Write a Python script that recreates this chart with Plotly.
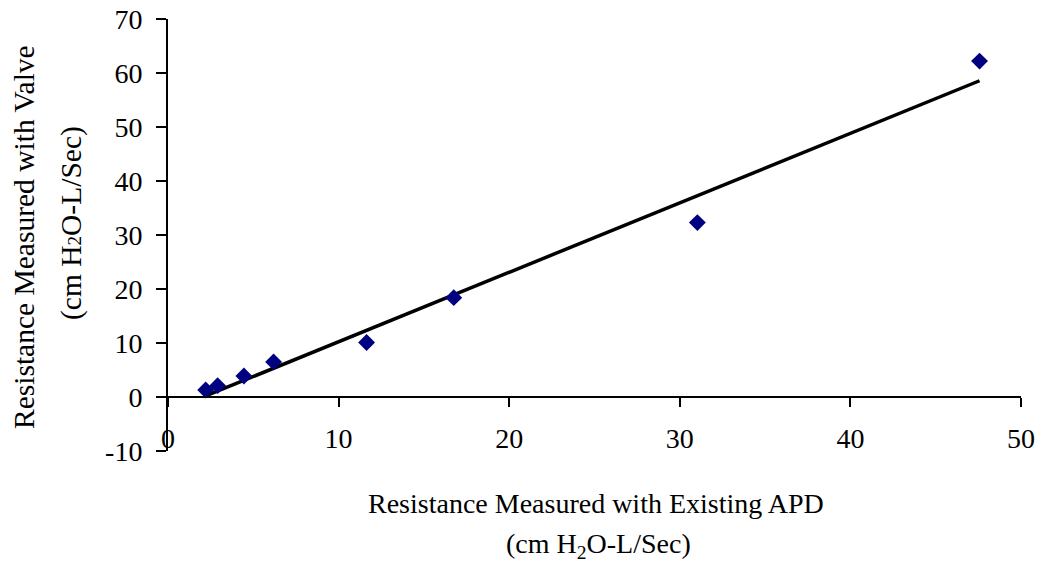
import numpy as np
import plotly.graph_objects as go

# Data
apd_existing = [2.21, 2.91, 4.45, 6.19, 11.64, 16.75, 31.03, 47.57]
valve_measured = [1.3, 2.1, 3.9, 6.5, 10.1, 18.4, 32.3, 62.2]

x_ticks = [0, 10, 20, 30, 40, 50]
y_ticks = [-10, 0, 10, 20, 30, 40, 50, 60, 70]
y_tick_text = ["-10", "0", "10", "20", "30", "40", "50", "60", "70"]
x_range = [0, 50]
y_range = [-10, 70]

# Linear trend line fitted from the data
slope, intercept = np.polyfit(apd_existing, valve_measured, 1)
trend_x = [min(apd_existing), max(apd_existing)]
trend_y = [slope * v + intercept for v in trend_x]

FONT = "Liberation Serif, Times New Roman, serif"
FS = 28
FS_Y = 29.5

OFF = 8  # default page body margin
W, H = 1037, 559
# target plot area in viewport pixels: x 168..1021, y 19..451
L = 168 - OFF
R = (OFF + W) - 1021
T = 19 - OFF
B = (OFF + H) - 451
pw, ph = W - L - R, H - T - B

def px_to_paper_x(px):
    return (px - OFF - L) / pw

def px_to_paper_y(py):
    return (OFF + H - B - py) / ph

fig = go.Figure()
fig.add_trace(go.Scatter(
    x=trend_x, y=trend_y, mode="lines",
    line=dict(color="black", width=3.5), showlegend=False, hoverinfo="skip",
))
fig.add_trace(go.Scatter(
    x=apd_existing, y=valve_measured, mode="markers",
    marker=dict(symbol="diamond", size=13, color="#000080", line=dict(width=0)),
    showlegend=False,
))
# Invisible trace on xaxis2 so that the crossing axis is drawn
fig.add_trace(go.Scatter(x=x_range, y=[None, None], xaxis="x2", yaxis="y",
                         mode="markers", showlegend=False, hoverinfo="skip"))

zero_pos = (0 - y_range[0]) / (y_range[1] - y_range[0])

fig.update_layout(
    width=W, height=H,
    margin=dict(l=L, r=R, t=T, b=B, pad=0, autoexpand=False),
    paper_bgcolor="white", plot_bgcolor="white",
    font=dict(family=FONT, size=FS, color="black"),
    xaxis=dict(
        range=x_range, tickvals=x_ticks, showgrid=False, zeroline=False,
        showline=False, ticks="", anchor="free", position=px_to_paper_y(419),
        tickfont=dict(family=FONT, size=FS, color="black"), automargin=False,
        ticklabeloverflow="allow",
    ),
    xaxis2=dict(
        range=x_range, tickvals=x_ticks, overlaying="x", anchor="free",
        position=zero_pos, showline=True, linecolor="black", linewidth=2,
        ticks="outside", ticklen=9, tickwidth=2, tickcolor="black",
        showticklabels=False, showgrid=False, zeroline=False, automargin=False,
    ),
    yaxis=dict(
        range=y_range, tickvals=y_ticks, ticktext=y_tick_text,
        showgrid=False, zeroline=False,
        showline=True, linecolor="black", linewidth=2,
        ticks="outside", ticklen=10, tickwidth=2, tickcolor="black",
        ticklabelstandoff=8, automargin=False, ticklabeloverflow="allow",
        tickfont=dict(family=FONT, size=FS, color="black"),
    ),
    annotations=[
        dict(text="Resistance Measured with Valve", xref="paper", yref="paper",
             x=px_to_paper_x(24), y=px_to_paper_y(237), textangle=-90,
             showarrow=False, xanchor="center", yanchor="middle",
             font=dict(family=FONT, size=FS_Y)),
        dict(text="(cm H<span style='font-size:19px'>2</span>O-L/Sec)",
             xref="paper", yref="paper",
             x=px_to_paper_x(71), y=px_to_paper_y(223), textangle=-90,
             showarrow=False, xanchor="center", yanchor="middle",
             font=dict(family=FONT, size=FS_Y)),
        dict(text="Resistance Measured with Existing APD", xref="paper", yref="paper",
             x=px_to_paper_x(596), y=px_to_paper_y(503),
             showarrow=False, xanchor="center", yanchor="middle",
             font=dict(family=FONT, size=FS)),
        dict(text="(cm H<sub>2</sub>O-L/Sec)", xref="paper", yref="paper",
             x=px_to_paper_x(598), y=px_to_paper_y(545),
             showarrow=False, xanchor="center", yanchor="middle",
             font=dict(family=FONT, size=FS)),
    ],
)

fig.write_html("out.html")
